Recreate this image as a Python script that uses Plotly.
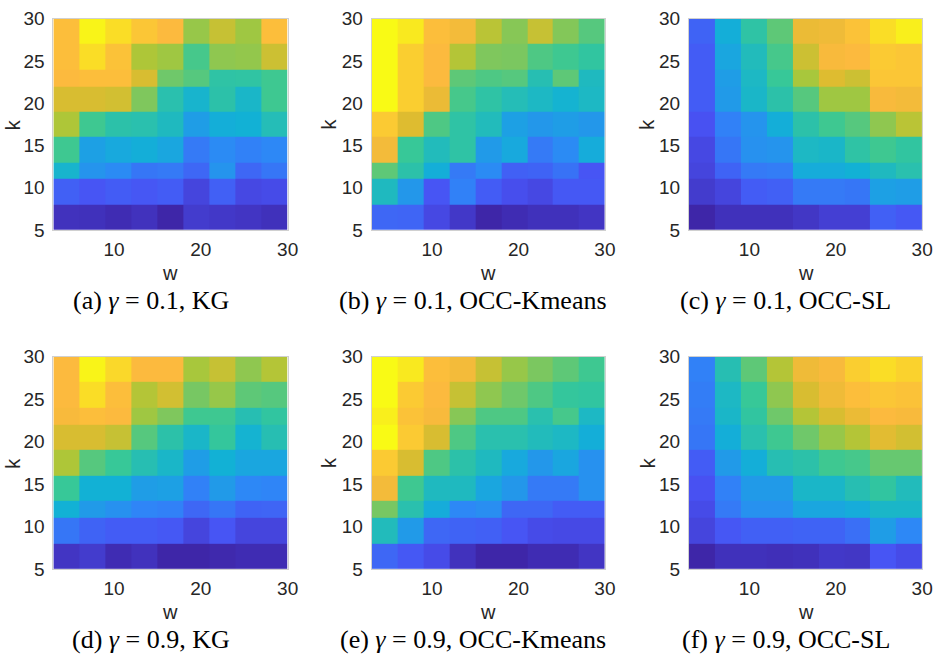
import plotly.graph_objects as go

W, H = 948, 671

# cell edges
x_edges = [3, 6, 9, 12, 15, 18, 21, 24, 27, 30]
y_edges = [5, 8, 11, 13, 16, 19, 22, 24, 27, 30]
x_ticks = [10, 20, 30]
y_ticks = [5, 10, 15, 20, 25, 30]

# normalized values, rows bottom (k=5..8) to top (k=27..30)
a_kg_01 = [
    [0.04, 0.035, 0.02, 0.04, 0.00, 0.07, 0.06, 0.05, 0.035],
    [0.18, 0.15, 0.17, 0.155, 0.17, 0.10, 0.18, 0.11, 0.12],
    [0.45, 0.33, 0.30, 0.24, 0.25, 0.20, 0.33, 0.20, 0.24],
    [0.58, 0.37, 0.40, 0.42, 0.39, 0.25, 0.30, 0.27, 0.29],
    [0.72, 0.58, 0.53, 0.52, 0.48, 0.36, 0.42, 0.43, 0.50],
    [0.79, 0.79, 0.78, 0.66, 0.52, 0.45, 0.53, 0.46, 0.58],
    [0.87, 0.88, 0.88, 0.79, 0.64, 0.61, 0.54, 0.545, 0.58],
    [0.88, 0.95, 0.89, 0.72, 0.70, 0.59, 0.68, 0.685, 0.77],
    [0.88, 0.99, 0.95, 0.90, 0.87, 0.69, 0.76, 0.70, 0.88],
]
b_km_01 = [
    [0.20, 0.195, 0.11, 0.06, 0.00, 0.02, 0.035, 0.035, 0.05],
    [0.48, 0.34, 0.15, 0.27, 0.17, 0.13, 0.11, 0.16, 0.16],
    [0.62, 0.53, 0.42, 0.25, 0.30, 0.18, 0.19, 0.23, 0.15],
    [0.85, 0.57, 0.49, 0.54, 0.35, 0.40, 0.25, 0.30, 0.41],
    [0.91, 0.80, 0.60, 0.54, 0.49, 0.37, 0.34, 0.36, 0.34],
    [1.00, 0.92, 0.83, 0.59, 0.54, 0.50, 0.47, 0.44, 0.47],
    [1.00, 0.92, 0.87, 0.62, 0.60, 0.61, 0.51, 0.62, 0.48],
    [1.00, 0.92, 0.87, 0.73, 0.66, 0.655, 0.60, 0.58, 0.55],
    [1.00, 0.97, 0.88, 0.85, 0.74, 0.67, 0.76, 0.665, 0.61],
]
c_sl_01 = [
    [0.00, 0.035, 0.035, 0.035, 0.055, 0.08, 0.08, 0.18, 0.16],
    [0.07, 0.10, 0.17, 0.18, 0.25, 0.25, 0.24, 0.37, 0.36],
    [0.10, 0.19, 0.25, 0.26, 0.41, 0.41, 0.43, 0.48, 0.52],
    [0.11, 0.24, 0.32, 0.33, 0.47, 0.46, 0.54, 0.58, 0.55],
    [0.14, 0.27, 0.33, 0.42, 0.53, 0.58, 0.61, 0.68, 0.74],
    [0.17, 0.35, 0.46, 0.53, 0.61, 0.70, 0.70, 0.86, 0.85],
    [0.17, 0.36, 0.47, 0.57, 0.71, 0.80, 0.77, 0.90, 0.90],
    [0.17, 0.39, 0.49, 0.59, 0.77, 0.86, 0.87, 0.91, 0.90],
    [0.19, 0.42, 0.54, 0.62, 0.83, 0.84, 0.89, 0.95, 0.98],
]
d_kg_09 = [
    [0.05, 0.07, 0.02, 0.04, 0.00, 0.00, 0.01, 0.02, 0.02],
    [0.24, 0.19, 0.17, 0.17, 0.16, 0.10, 0.15, 0.10, 0.10],
    [0.43, 0.35, 0.32, 0.28, 0.27, 0.20, 0.24, 0.19, 0.195],
    [0.57, 0.43, 0.43, 0.36, 0.37, 0.27, 0.35, 0.29, 0.28],
    [0.72, 0.61, 0.57, 0.51, 0.46, 0.36, 0.43, 0.39, 0.39],
    [0.79, 0.79, 0.76, 0.61, 0.53, 0.46, 0.56, 0.44, 0.51],
    [0.86, 0.88, 0.87, 0.70, 0.66, 0.58, 0.58, 0.51, 0.55],
    [0.87, 0.95, 0.88, 0.73, 0.78, 0.65, 0.69, 0.62, 0.61],
    [0.87, 0.99, 0.94, 0.87, 0.87, 0.71, 0.76, 0.68, 0.73],
]
e_km_09 = [
    [0.20, 0.16, 0.12, 0.04, 0.00, 0.00, 0.02, 0.02, 0.05],
    [0.49, 0.35, 0.20, 0.19, 0.18, 0.15, 0.12, 0.115, 0.115],
    [0.65, 0.52, 0.41, 0.29, 0.31, 0.20, 0.20, 0.17, 0.17],
    [0.85, 0.58, 0.48, 0.48, 0.39, 0.34, 0.25, 0.25, 0.32],
    [0.91, 0.79, 0.60, 0.53, 0.48, 0.40, 0.34, 0.39, 0.32],
    [1.00, 0.91, 0.79, 0.60, 0.52, 0.52, 0.49, 0.47, 0.42],
    [0.98, 0.89, 0.86, 0.67, 0.60, 0.60, 0.52, 0.59, 0.47],
    [1.00, 0.91, 0.87, 0.76, 0.68, 0.64, 0.60, 0.56, 0.55],
    [1.00, 0.97, 0.88, 0.85, 0.76, 0.69, 0.655, 0.62, 0.58],
]
f_sl_09 = [
    [0.00, 0.035, 0.035, 0.03, 0.035, 0.06, 0.055, 0.15, 0.12],
    [0.10, 0.155, 0.18, 0.18, 0.19, 0.19, 0.22, 0.36, 0.29],
    [0.12, 0.25, 0.32, 0.32, 0.39, 0.39, 0.41, 0.46, 0.46],
    [0.14, 0.27, 0.35, 0.35, 0.46, 0.46, 0.51, 0.55, 0.49],
    [0.17, 0.35, 0.42, 0.51, 0.53, 0.58, 0.59, 0.63, 0.63],
    [0.24, 0.42, 0.52, 0.58, 0.64, 0.69, 0.73, 0.81, 0.78],
    [0.25, 0.46, 0.55, 0.64, 0.73, 0.79, 0.83, 0.87, 0.86],
    [0.26, 0.47, 0.57, 0.68, 0.79, 0.84, 0.88, 0.90, 0.89],
    [0.27, 0.51, 0.62, 0.73, 0.84, 0.86, 0.92, 0.95, 0.93],
]

panels = [a_kg_01, b_km_01, c_sl_01, d_kg_09, e_km_09, f_sl_09]
captions = [
    "(a) <i>γ</i> = 0.1, KG",
    "(b) <i>γ</i> = 0.1, OCC-Kmeans",
    "(c) <i>γ</i> = 0.1, OCC-SL",
    "(d) <i>γ</i> = 0.9, KG",
    "(e) <i>γ</i> = 0.9, OCC-Kmeans",
    "(f) <i>γ</i> = 0.9, OCC-SL",
]

parula = [
    [0.0, "rgb(62,38,168)"],
    [1 / 7, "rgb(72,82,244)"],
    [2 / 7, "rgb(46,135,247)"],
    [3 / 7, "rgb(18,177,214)"],
    [4 / 7, "rgb(55,200,151)"],
    [5 / 7, "rgb(171,199,57)"],
    [0.80, "rgb(222,188,48)"],
    [0.87, "rgb(252,186,62)"],
    [0.93, "rgb(250,210,45)"],
    [1.0, "rgb(249,250,21)"],
]

# pixel layout
col_px = [(54, 291), (376, 612), (697, 933)]
row_px = [(9, 227), (358, 577)]
k_x = [13, 333, 655]
cap_x = [153, 479, 795]
w_y = [272, 621]
cap_y = [300, 650]

def px(x):
    return x / W

def py(y):
    return 1 - y / H

fig = go.Figure()
layout = dict(
    width=W, height=H, margin=dict(l=0, r=0, t=0, b=0),
    paper_bgcolor="white", plot_bgcolor="white", showlegend=False,
)
annotations = []
sans = "Liberation Sans, Arial, sans-serif"
tickfont = dict(family=sans, size=19, color="#262626")
axline = dict(showline=True, mirror=True, linecolor="#d0d0d0", linewidth=1)

for i, z in enumerate(panels):
    r, c = divmod(i, 3)
    n = i + 1
    xa = "x" if n == 1 else f"x{n}"
    ya = "y" if n == 1 else f"y{n}"
    fig.add_trace(go.Heatmap(
        z=z, x=x_edges, y=y_edges, colorscale=parula, zmin=0, zmax=1,
        showscale=False, xaxis=xa, yaxis=ya, xgap=0, ygap=0,
    ))
    x0, x1 = col_px[c]
    y0, y1 = row_px[r]
    layout["xaxis" if n == 1 else f"xaxis{n}"] = dict(
        domain=[px(x0), px(x1)], range=[3, 30], anchor=ya,
        tickvals=x_ticks, ticks="", showgrid=False, zeroline=False,
        tickfont=tickfont, ticklabelstandoff=2, **axline,
    )
    layout["yaxis" if n == 1 else f"yaxis{n}"] = dict(
        domain=[py(y1), py(y0)], range=[5, 30], anchor=xa,
        tickvals=y_ticks, ticks="", showgrid=False, zeroline=False,
        tickfont=tickfont, ticklabelstandoff=4, **axline,
    )
    annotations.append(dict(
        text="w", x=px((x0 + x1) / 2), y=py(w_y[r]), xref="paper", yref="paper",
        showarrow=False, xanchor="center", yanchor="middle",
        font=dict(family=sans, size=20, color="#262626"),
    ))
    annotations.append(dict(
        text="k", x=px(k_x[c]), y=py((y0 + y1) / 2), xref="paper", yref="paper",
        showarrow=False, xanchor="center", yanchor="middle", textangle=-90,
        font=dict(family=sans, size=20, color="#262626"),
    ))
    annotations.append(dict(
        text=captions[i], x=px(cap_x[c]), y=py(cap_y[r]), xref="paper", yref="paper",
        showarrow=False, xanchor="center", yanchor="middle",
        font=dict(family="Liberation Serif, Times New Roman, serif", size=26, color="black"),
    ))

layout["annotations"] = annotations
fig.update_layout(**layout)
fig.write_html("out.html")
